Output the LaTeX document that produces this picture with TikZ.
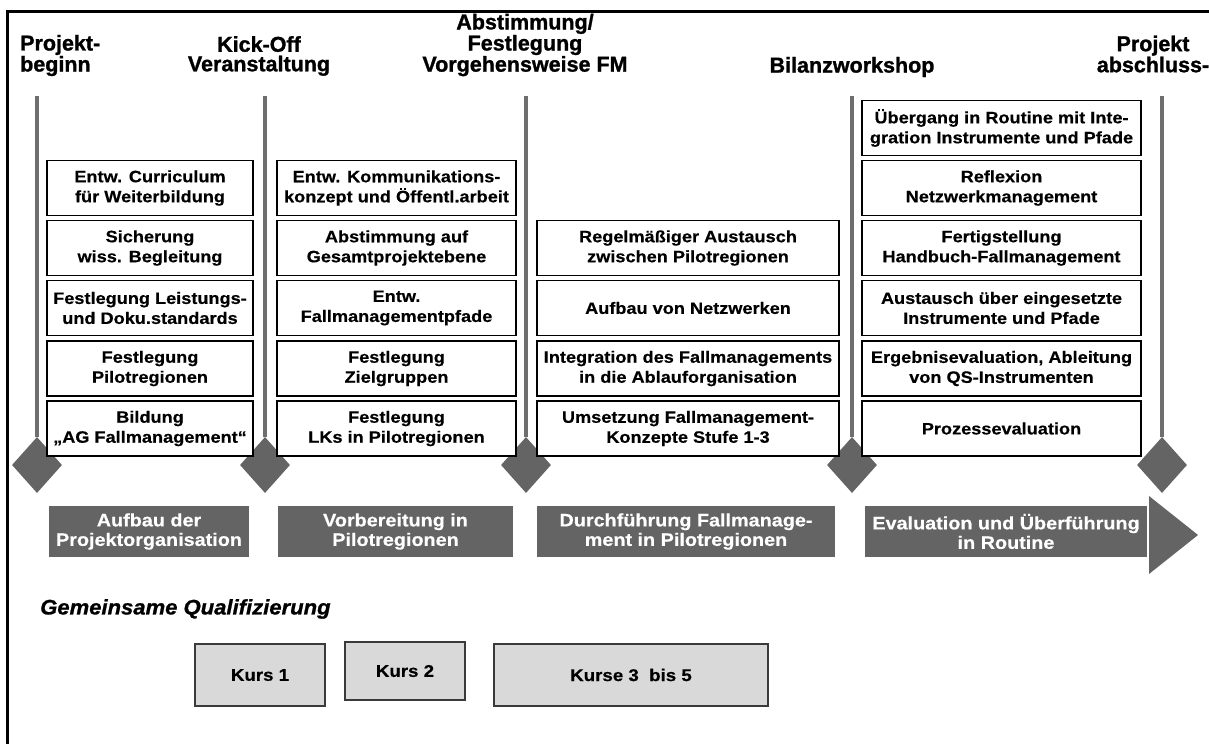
\documentclass[tikz,border=0pt]{standalone}
\usepackage{fontspec}
\setmainfont{Liberation Sans}
\newfontfamily\bx{Liberation Sans Bold}[FakeStretch=1.1, FakeBold=0.4]
\newfontfamily\hd{Liberation Sans Bold}[FakeBold=1.2]
\newfontfamily\qf{Liberation Sans Bold Italic}[FakeBold=1, FakeStretch=1.05]
\usetikzlibrary{shapes.geometric}
\definecolor{mgray}{HTML}{6E6E6E}
\definecolor{dgray}{HTML}{646464}
\definecolor{lgray}{HTML}{D9D9D9}
\definecolor{kborder}{HTML}{3A3A3A}
\tikzset{
  cbox/.style={draw=black, line width=1.4pt, fill=white, align=center, inner sep=0pt,
    font=\bx\fontsize{16.5}{20}\selectfont, minimum height=55pt},
  c1/.style={cbox, minimum width=206pt},
  c2/.style={cbox, minimum width=239pt},
  c3/.style={cbox, minimum width=302pt},
  c4/.style={cbox, minimum width=279pt},
  hdr/.style={align=center, inner sep=0pt, font=\hd\fontsize{21.5}{19.5}\selectfont},
  mline/.style={draw=mgray, line width=3.5pt},
  mdia/.style={diamond, fill=dgray, draw=none, inner sep=0pt, minimum width=50pt, minimum height=56pt},
  phase/.style={fill=dgray, draw=none, text=white, align=center, inner sep=0pt,
    font=\bx\fontsize{18}{19.5}\selectfont, minimum height=51pt},
  kurs/.style={fill=lgray, draw=kborder, line width=1.5pt, inner sep=0pt,
    font=\bx\fontsize{17}{20}\selectfont},
}
\begin{document}
\begin{tikzpicture}[x=1pt, y=-1pt]
\useasboundingbox (0,0) rectangle (1209,744);
\fill[white] (0,0) rectangle (1209,744);
% frame
\draw[line width=2.5pt] (7.5,744) -- (7.5,11.5) -- (1209,11.5);

% headers
\node[hdr, align=left, anchor=west] (h1) at (20,55.5) {Projekt-\\beginn};
\node[hdr] (h2) at (259,56) {Kick-Off\\Veranstaltung};
\node[hdr] (h3) at (525,45) {Abstimmung/\\Festlegung\\Vorgehensweise FM};
\node[hdr] (h4) at (852,67) {Bilanzworkshop};
\node[hdr] (h5) at (1153,54) {Projekt\\abschluss-};

% diamonds
\node[mdia] (d1) at (37,465) {};
\node[mdia] (d2) at (265,465) {};
\node[mdia] (d3) at (526,465) {};
\node[mdia] (d4) at (852,465) {};
\node[mdia] (d5) at (1162,465) {};

% milestone lines
\coordinate (t1) at (37,96);
\coordinate (t2) at (265,96);
\coordinate (t3) at (526,96);
\coordinate (t4) at (852,96);
\coordinate (t5) at (1162,96);
\draw[mline] (t1) -- (d1);
\draw[mline] (t2) -- (d2);
\draw[mline] (t3) -- (d3);
\draw[mline] (t4) -- (d4);
\draw[mline] (t5) -- (d5);

% column 1
\node[c1] (a1) at (150,188) {Entw. Curriculum\\für Weiterbildung};
\node[c1] (a2) at (150,248) {Sicherung\\wiss. Begleitung};
\node[c1] (a3) at (150,308) {Festlegung Leistungs-\\und Doku.standards};
\node[c1] (a4) at (150,368.5) {Festlegung\\Pilotregionen};
\node[c1] (a5) at (150,428.5) {Bildung\\„AG Fallmanagement“};

% column 2
\node[c2] (b1) at (396.5,188) {Entw. Kommunikations-\\konzept und Öffentl.arbeit};
\node[c2] (b2) at (396.5,248) {Abstimmung auf\\Gesamtprojektebene};
\node[c2] (b3) at (396.5,308) {Entw.\\Fallmanagementpfade};
\node[c2] (b4) at (396.5,368.5) {Festlegung\\Zielgruppen};
\node[c2] (b5) at (396.5,428.5) {Festlegung\\LKs in Pilotregionen};

% column 3
\node[c3] (e2) at (688,248) {Regelmäßiger Austausch\\zwischen Pilotregionen};
\node[c3] (e3) at (688,308) {Aufbau von Netzwerken};
\node[c3] (e4) at (688,368.5) {Integration des Fallmanagements\\in die Ablauforganisation};
\node[c3] (e5) at (688,428.5) {Umsetzung Fallmanagement-\\Konzepte Stufe 1-3};

% column 4
\node[c4] (f0) at (1001.5,128) {Übergang in Routine mit Inte-\\gration Instrumente und Pfade};
\node[c4] (f1) at (1001.5,188) {Reflexion\\Netzwerkmanagement};
\node[c4] (f2) at (1001.5,248) {Fertigstellung\\Handbuch-Fallmanagement};
\node[c4] (f3) at (1001.5,308) {Austausch über eingesetzte\\Instrumente und Pfade};
\node[c4] (f4) at (1001.5,368.5) {Ergebnisevaluation, Ableitung\\von QS-Instrumenten};
\node[c4] (f5) at (1001.5,428.5) {Prozessevaluation};

% phases
\node[phase, minimum width=200pt] (p1) at (149,531.5) {Aufbau der\\Projektorganisation};
\node[phase, minimum width=235pt] (p2) at (395.5,531.5) {Vorbereitung in\\Pilotregionen};
\node[phase, minimum width=298pt] (p3) at (686,531.5) {Durchführung Fallmanage-\\ment in Pilotregionen};
\node[phase, minimum width=282pt] (p4) at (1006,531.5) {Evaluation und Überführung\\in Routine};
\fill[dgray] (1149,496) -- (1198,535) -- (1149,574) -- cycle;

% qualification
\node[anchor=west, inner sep=0pt, font=\qf\fontsize{21}{22}\selectfont] (q) at (40,609) {Gemeinsame Qualifizierung};
\node[kurs, minimum width=130pt, minimum height=62pt] (k1) at (260,675) {Kurs 1};
\node[kurs, minimum width=120pt, minimum height=58pt] (k2) at (405,671) {Kurs 2};
\node[kurs, minimum width=274pt, minimum height=62pt] (k3) at (631,675) {Kurse 3 \ bis 5};
\end{tikzpicture}
\end{document}
